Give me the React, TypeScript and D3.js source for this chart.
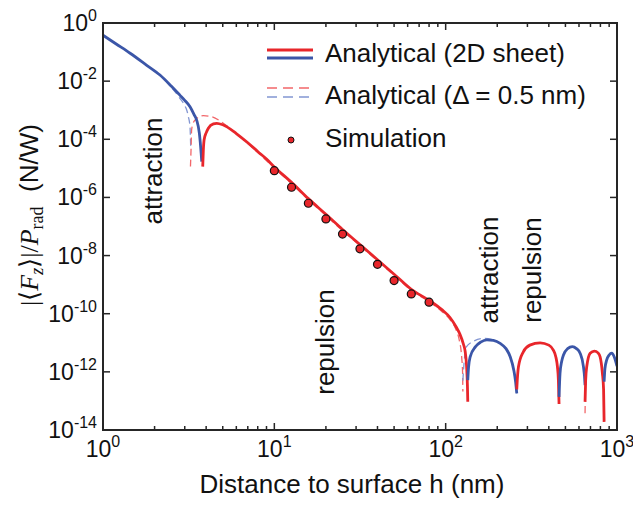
import React from "react";
import * as d3 from "d3";

const W = 633;
const H = 506;
const PL = 103, PR = 617, PT = 23, PB = 430;

const xTickExps = [0, 1, 2, 3];
const yTickExps = [0, -2, -4, -6, -8, -10, -12, -14];

// [h (nm), |<Fz>|/Prad]
const blueSolid1: [number, number][] = [
  [1.0, 3.8e-1], [1.2, 1.86e-1], [1.44, 9.1e-2], [1.8, 3.5e-2], [2.15, 1.62e-2],
  [2.5, 6.8e-3], [2.81, 3.3e-3], [3.0, 2.19e-3], [3.22, 1.32e-3], [3.4, 7.1e-4],
  [3.52, 4.6e-4], [3.65, 1.62e-4], [3.74, 3.3e-5], [3.77, 1.7e-5],
];
const redSolid1: [number, number][] = [
  [3.82, 1.15e-5], [3.85, 4.0e-5], [3.89, 9.5e-5], [4.0, 1.66e-4], [4.12, 2.4e-4],
  [4.41, 3.4e-4], [4.61, 3.55e-4], [5.0, 3.16e-4], [6.0, 1.58e-4], [7.0, 7.6e-5],
  [8.0, 3.8e-5], [9.0, 2.09e-5], [10, 1.12e-5], [12.6, 3.3e-6], [15.8, 9.1e-7],
  [20, 2.63e-7], [25, 7.9e-8], [31.6, 2.4e-8], [40, 7.2e-9], [50, 2.29e-9],
  [63, 6.9e-10], [80, 2.88e-10], [95, 1.38e-10], [106, 7.4e-11], [115, 3.55e-11],
  [121, 2.0e-11], [127, 8.9e-12], [130, 5.0e-12], [132.5, 1.51e-12], [134, 3.2e-13],
  [134.6, 9.3e-14],
];
const blueSolidA: [number, number][] = [
  [134.6, 5.2e-13], [136, 1.41e-12], [139, 3.3e-12], [149, 7.2e-12], [160, 1.05e-11],
  [174, 1.26e-11], [190, 1.2e-11], [208, 9.5e-12], [225, 6.3e-12], [238, 3.3e-12],
  [250, 1.12e-12], [256, 4.5e-13], [260, 1.82e-13],
];
const redSolidB: [number, number][] = [
  [260, 2.5e-13], [263, 7.9e-13], [266, 1.51e-12], [284, 4.9e-12], [310, 8.3e-12],
  [356, 1.0e-11], [400, 8.3e-12], [425, 5.6e-12], [440, 3.2e-12], [449, 1.51e-12],
  [455, 5.0e-13], [459, 7.8e-14],
];
const blueSolidC: [number, number][] = [
  [459, 1.38e-13], [465, 8.9e-13], [475, 2.24e-12], [487, 3.8e-12], [515, 6.3e-12],
  [549, 7.4e-12], [580, 6.3e-12], [609, 4.4e-12], [637, 1.51e-12], [646, 7.1e-13],
  [651, 3.5e-13],
];
const redSolidD: [number, number][] = [
  [651, 9.3e-14], [656, 5.0e-13], [666, 1.51e-12], [697, 4.4e-12], [738, 5.2e-12],
  [775, 4.5e-12], [797, 3.3e-12], [822, 8.9e-13], [835, 2.5e-13], [841, 1.9e-14],
];
const blueSolidE: [number, number][] = [
  [841, 4.6e-13], [850, 1.26e-12], [871, 2.57e-12], [900, 3.8e-12], [933, 4.4e-12],
  [965, 3.2e-12], [1000, 1.58e-12],
];

const blueDash1: [number, number][] = [
  [1.0, 3.8e-1], [1.2, 1.86e-1], [1.44, 9.1e-2], [1.8, 3.5e-2], [2.15, 1.62e-2],
  [2.5, 6.3e-3], [2.81, 2.57e-3], [3.0, 1.45e-3], [3.08, 1.02e-3], [3.15, 6.0e-4],
  [3.22, 2.7e-4], [3.25, 5.5e-5],
];
const redDash1: [number, number][] = [
  [3.24, 1.15e-5], [3.27, 6.0e-5], [3.29, 2.1e-4], [3.35, 3.4e-4], [3.45, 4.6e-4],
  [3.85, 6.5e-4], [4.31, 6.0e-4], [5.04, 3.55e-4], [6.0, 1.55e-4], [7.0, 7.1e-5],
  [8.0, 3.5e-5], [10, 1.02e-5], [12.6, 3.0e-6], [15.8, 8.3e-7], [20, 2.4e-7],
  [25, 7.2e-8], [31.6, 2.2e-8], [40, 6.6e-9], [50, 2.1e-9], [63, 6.3e-10],
  [80, 2.6e-10], [95, 1.2e-10], [106, 6.3e-11], [115, 2.8e-11], [120, 1.26e-11],
  [124, 3.2e-12], [125.5, 1.0e-12], [126, 2.1e-13],
];
const blueDashA: [number, number][] = [
  [126, 5.0e-13], [128, 2.0e-12], [132, 7.2e-12], [145, 1.12e-11], [166, 1.41e-11],
  [190, 1.26e-11], [208, 9.5e-12], [225, 6.3e-12], [238, 3.3e-12], [250, 1.12e-12],
  [256, 4.5e-13], [260, 1.82e-13],
];
const redDashD: [number, number][] = [
  [651, 3.8e-14], [656, 5.0e-13], [666, 1.51e-12], [697, 4.4e-12], [738, 5.2e-12],
  [775, 4.5e-12], [797, 3.3e-12], [822, 8.9e-13], [835, 2.5e-13], [841, 1.9e-14],
];

const simH = [10, 12.6, 15.8, 20, 25, 31.6, 40, 50, 63, 80];
const simF = [8.3e-6, 2.24e-6, 6.3e-7, 1.82e-7, 5.5e-8, 1.7e-8, 5.0e-9, 1.38e-9, 4.8e-10, 2.5e-10];

const legendLabels = ["Analytical (2D sheet)", "Analytical (\u0394 = 0.5 nm)", "Simulation"];

const RED = "#e8262b";
const BLUE = "#3b56a8";
const RED_D = "#f2676a";
const BLUE_D = "#8396d2";
const AXIS = "#262626";
const SANS = "'Liberation Sans', Arial, Helvetica, sans-serif";
const SERIF = "'Liberation Serif', 'Times New Roman', serif";

export default function App() {
  const x = d3.scaleLog().domain([1, 1000]).range([PL, PR]);
  const y = d3.scaleLog().domain([1e-14, 1]).range([PB, PT]);
  const line = d3
    .line<[number, number]>()
    .x((d) => x(d[0]))
    .y((d) => y(d[1]))
    .curve(d3.curveMonotoneX);

  const minorX: number[] = [];
  for (let e = 0; e < 3; e++) for (let k = 2; k <= 9; k++) minorX.push(k * Math.pow(10, e));

  const solids: [[number, number][], string][] = [
    [blueSolid1, BLUE], [redSolid1, RED], [blueSolidA, BLUE], [redSolidB, RED],
    [blueSolidC, BLUE], [redSolidD, RED], [blueSolidE, BLUE],
  ];
  const dashes: [[number, number][], string][] = [
    [blueDash1, BLUE_D], [redDash1, RED_D], [blueDashA, BLUE_D], [redSolidB, RED_D],
    [blueSolidC, BLUE_D], [redDashD, RED_D], [blueSolidE, BLUE_D],
  ];

  return (
    <svg width={W} height={H} style={{ display: "block", position: "absolute", left: 0, top: 0 }}>
      <rect x={0} y={0} width={W} height={H} fill="#fff" />
      <defs>
        <clipPath id="plotclip">
          <rect x={PL} y={PT} width={PR - PL} height={PB - PT} />
        </clipPath>
      </defs>

      <g clipPath="url(#plotclip)">
        {dashes.map(([d, c], i) => (
          <path key={"d" + i} d={line(d) || ""} fill="none" stroke={c} strokeWidth={1.3} strokeDasharray="7,4" />
        ))}
        {solids.map(([d, c], i) => (
          <path key={"s" + i} d={line(d) || ""} fill="none" stroke={c} strokeWidth={2.8} />
        ))}
        {simH.map((h, i) => (
          <circle key={"p" + i} cx={x(h)} cy={y(simF[i])} r={4} fill={RED} stroke="#111" strokeWidth={1.2} />
        ))}
      </g>

      {/* frame */}
      <rect x={PL} y={PT} width={PR - PL} height={PB - PT} fill="none" stroke={AXIS} strokeWidth={2} />

      {/* x ticks */}
      {xTickExps.map((e) => {
        const px = x(Math.pow(10, e));
        return (
          <g key={"xt" + e}>
            <line x1={px} x2={px} y1={PB} y2={PB - 7} stroke={AXIS} strokeWidth={1.5} />
            <line x1={px} x2={px} y1={PT} y2={PT + 7} stroke={AXIS} strokeWidth={1.5} />
            <text x={px} y={PB + 27} textAnchor="middle" fontFamily={SANS} fontSize={23} fill="#111">
              <tspan>10</tspan>
              <tspan dy={-10} fontSize={16}>{String(e)}</tspan>
            </text>
          </g>
        );
      })}
      {minorX.map((v, i) => {
        const px = x(v);
        return (
          <g key={"xm" + i}>
            <line x1={px} x2={px} y1={PB} y2={PB - 4} stroke={AXIS} strokeWidth={1.5} />
            <line x1={px} x2={px} y1={PT} y2={PT + 4} stroke={AXIS} strokeWidth={1.5} />
          </g>
        );
      })}

      {/* y ticks */}
      {yTickExps.map((e) => {
        const py = y(Math.pow(10, e));
        return (
          <g key={"yt" + e}>
            <line x1={PL} x2={PL + 7} y1={py} y2={py} stroke={AXIS} strokeWidth={1.5} />
            <line x1={PR} x2={PR - 7} y1={py} y2={py} stroke={AXIS} strokeWidth={1.5} />
            <text x={97} y={py + 8} textAnchor="end" fontFamily={SANS} fontSize={23} fill="#111">
              <tspan>10</tspan>
              <tspan dy={-10} fontSize={16}>{String(e)}</tspan>
            </text>
          </g>
        );
      })}

      {/* axis titles */}
      <text x={352} y={493} textAnchor="middle" fontFamily={SANS} fontSize={26} fill="#111">
        Distance to surface h (nm)
      </text>
      <text transform="translate(38,215) rotate(-90)" textAnchor="middle" fontSize={26} fill="#111">
        <tspan fontFamily={SERIF}>|{"\u27E8"}</tspan>
        <tspan fontFamily={SERIF} fontStyle="italic">F</tspan>
        <tspan fontFamily={SERIF} fontStyle="italic" fontSize={18} dy={5}>z</tspan>
        <tspan fontFamily={SERIF} dy={-5}>{"\u27E9"}|/</tspan>
        <tspan fontFamily={SERIF} fontStyle="italic">P</tspan>
        <tspan fontFamily={SERIF} fontSize={18} dy={5}>rad</tspan>
        <tspan fontFamily={SANS} dy={-5}>{"\u00A0\u00A0(N/W)"}</tspan>
      </text>

      {/* annotations */}
      <text transform="translate(162,171) rotate(-90)" textAnchor="middle" fontFamily={SANS} fontSize={26} fill="#111">attraction</text>
      <text transform="translate(334,342) rotate(-90)" textAnchor="middle" fontFamily={SANS} fontSize={26} fill="#111">repulsion</text>
      <text transform="translate(498,270) rotate(-90)" textAnchor="middle" fontFamily={SANS} fontSize={26} fill="#111">attraction</text>
      <text transform="translate(541,270) rotate(-90)" textAnchor="middle" fontFamily={SANS} fontSize={26} fill="#111">repulsion</text>

      {/* legend */}
      <line x1={267} x2={313} y1={50} y2={50} stroke={RED} strokeWidth={2.8} />
      <line x1={267} x2={313} y1={58} y2={58} stroke={BLUE} strokeWidth={2.8} />
      <line x1={267} x2={313} y1={88} y2={88} stroke={RED_D} strokeWidth={1.3} strokeDasharray="10,6" />
      <line x1={267} x2={313} y1={97} y2={97} stroke={BLUE_D} strokeWidth={1.3} strokeDasharray="10,6" />
      <circle cx={291} cy={140} r={3} fill={RED} stroke="#111" strokeWidth={1} />
      {legendLabels.map((t, i) => (
        <text key={"lg" + i} x={325} y={[62, 104, 147][i]} fontFamily={SANS} fontSize={26} fill="#111">{t}</text>
      ))}
    </svg>
  );
}
